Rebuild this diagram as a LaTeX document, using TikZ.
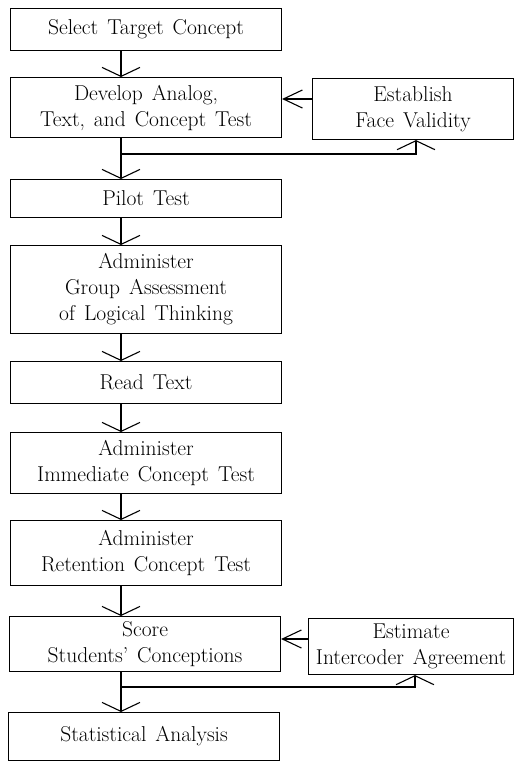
\documentclass[tikz,border=0pt]{standalone}
\usetikzlibrary{arrows.meta}
\newcommand\bxfont{\fontsize{21.5}{26}\selectfont\spaceskip=0.42em plus 0.1em minus 0.1em\relax}
\begin{document}
\begin{tikzpicture}[x=1pt,y=1pt,
  box/.style={draw, line width=1.1pt, anchor=north west, inner sep=0pt, align=center,
    font=\bxfont},
  vtip/.style={line width=1.1pt, -{Straight Barb[length=9pt,width=38pt]}},
  htip/.style={line width=1.1pt, -{Straight Barb[length=19pt,width=18pt]}}]
\useasboundingbox (0,0) rectangle (516,-761);
\node[box, minimum width=271pt, minimum height=42pt] (b1) at (10,-8) {Select Target Concept};
\node[box, minimum width=271pt, minimum height=60pt] (b2) at (10,-77) {Develop Analog,\\Text, and Concept Test};
\node[box, minimum width=201pt, minimum height=61pt] (s1) at (312,-78) {Establish\\Face Validity};
\node[box, minimum width=271pt, minimum height=38pt] (b3) at (10,-179) {Pilot Test};
\node[box, minimum width=271pt, minimum height=88pt] (b4) at (10,-245) {Administer\\Group Assessment\\of Logical Thinking};
\node[box, minimum width=271pt, minimum height=42pt] (b5) at (10,-361) {Read Text};
\node[box, minimum width=271pt, minimum height=61pt] (b6) at (10,-432) {Administer\\Immediate Concept Test};
\node[box, minimum width=271pt, minimum height=65pt] (b7) at (10,-520) {Administer\\Retention Concept Test};
\node[box, minimum width=271pt, minimum height=55pt] (b8) at (9,-616) {Score\\Students' Conceptions};
\node[box, minimum width=205pt, minimum height=56pt] (s2) at (308,-618) {Estimate\\Intercoder Agreement};
\node[box, minimum width=271pt, minimum height=48pt] (b9) at (8,-712) {Statistical Analysis};
\coordinate (colx) at (121,0);
\draw[vtip] (b1.south -| colx) -- (b2.north -| colx);
\draw[vtip] (b2.south -| colx) -- (b3.north -| colx);
\draw[vtip] (b3.south -| colx) -- (b4.north -| colx);
\draw[vtip] (b4.south -| colx) -- (b5.north -| colx);
\draw[vtip] (b5.south -| colx) -- (b6.north -| colx);
\draw[vtip] (b6.south -| colx) -- (b7.north -| colx);
\draw[vtip] (b7.south -| colx) -- (b8.north -| colx);
\draw[vtip] (b8.south -| colx) -- (b9.north -| colx);
\coordinate (j1) at (121,-154);
\coordinate (f1) at (416,-154);
\draw[vtip] (j1) -- (f1) -- (f1 |- s1.south);
\coordinate (j2) at (121,-687);
\coordinate (f2) at (415,-687);
\draw[vtip] (j2) -- (f2) -- (f2 |- s2.south);
\coordinate (a1) at (0,-99);
\coordinate (a2) at (0,-639);
\draw[htip] (s1.west |- a1) -- (b2.east |- a1);
\draw[htip] (s2.west |- a2) -- (b8.east |- a2);
\end{tikzpicture}
\end{document}
